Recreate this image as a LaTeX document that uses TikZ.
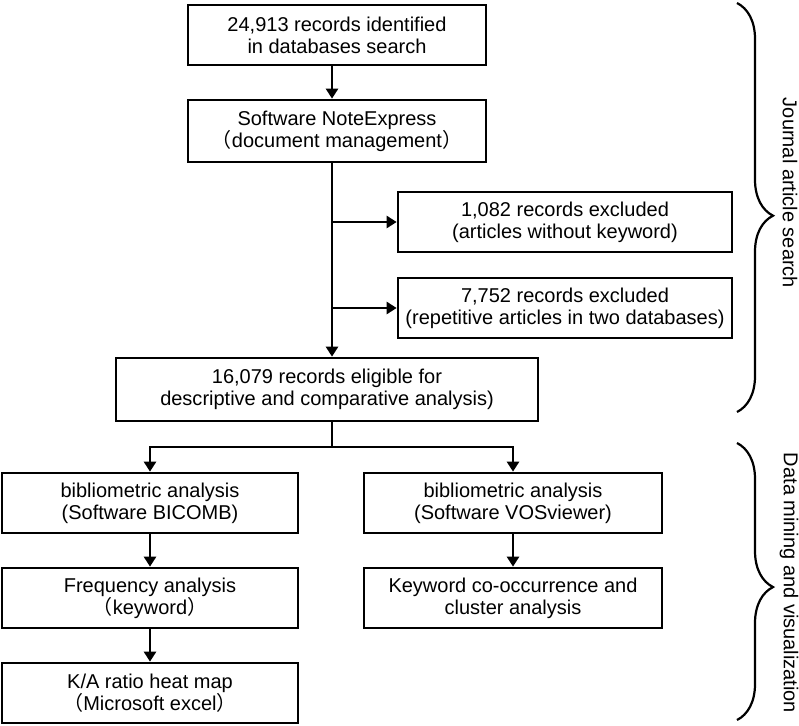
\documentclass[tikz,border=0pt]{standalone}
\usepackage{fontspec}
\setmainfont{Liberation Sans}
\newfontfamily\cjk{Noto Sans CJK SC}
\usetikzlibrary{arrows.meta,decorations.pathreplacing}
\newcommand{\lp}{{\cjk （}}
\newcommand{\rp}{{\cjk ）}}
\begin{document}
\begin{tikzpicture}[x=1pt,y=-1pt,
  box/.style={draw, line width=2.7pt, align=center, inner sep=0pt,
    font=\fontsize{20}{22}\selectfont, minimum height=60pt},
  arr/.style={line width=2.7pt, -{Triangle[length=10pt,width=12pt]}},
  ln/.style={line width=2.7pt},
  brc/.style={decorate, decoration={brace, amplitude=36pt, aspect=0.52}, line width=2.2pt},
  lbl/.style={font=\fontsize{20}{22}\selectfont, rotate=-90}]
\useasboundingbox (0,0) rectangle (799,725);

\coordinate (m) at (332,0);
\node[box, minimum width=298pt] (b1) at (337,35) {24,913 records identified\\in databases search};
\node[box, minimum width=298pt, minimum height=62pt] (b2) at (337,131) {Software NoteExpress\\\lp document management\rp};
\node[box, minimum width=334pt] (b3) at (565,222) {1,082 records excluded\\(articles without keyword)};
\node[box, minimum width=334pt] (b4) at (565,308) {7,752 records excluded\\(repetitive articles in two databases)};
\node[box, minimum width=422pt, minimum height=63pt] (b5) at (327,389.5) {16,079 records eligible for\\descriptive and comparative analysis)};
\node[box, minimum width=296pt] (b6) at (150,503) {bibliometric analysis\\(Software BICOMB)};
\node[box, minimum width=298pt] (b7) at (513,503) {bibliometric analysis\\(Software VOSviewer)};
\node[box, minimum width=296pt] (b8) at (150,598) {Frequency analysis\\\lp keyword\rp};
\node[box, minimum width=298pt] (b9) at (513,598) {Keyword co-occurrence and\\cluster analysis};
\node[box, minimum width=296pt] (b10) at (150,693) {K/A ratio heat map\\\lp Microsoft excel\rp};

\draw[arr] (b1.south -| m) -- (b2.north -| m);
\draw[arr] (b2.south -| m) -- (b5.north -| m);
\draw[arr] (b3.west -| m) -- (b3.west);
\draw[arr] (b4.west -| m) -- (b4.west);
\coordinate (j) at (332,447);
\draw[ln] (b5.south -| m) -- (j);
\draw[arr] (j) -| (b6.north);
\draw[arr] (j) -| (b7.north);
\draw[arr] (b6) -- (b8);
\draw[arr] (b8) -- (b10);
\draw[arr] (b7) -- (b9);

\coordinate (s1) at (737,3);
\coordinate (e1) at (737,412);
\coordinate (s2) at (737,443);
\coordinate (e2) at (737,720);
\draw[brc] (s1) -- (e1);
\draw[brc] (s2) -- (e2);
\node[lbl] (l1) at (790,193) {Journal article search};
\node[lbl] (l2) at (789,583) {Data mining and visualization};
\end{tikzpicture}
\end{document}
